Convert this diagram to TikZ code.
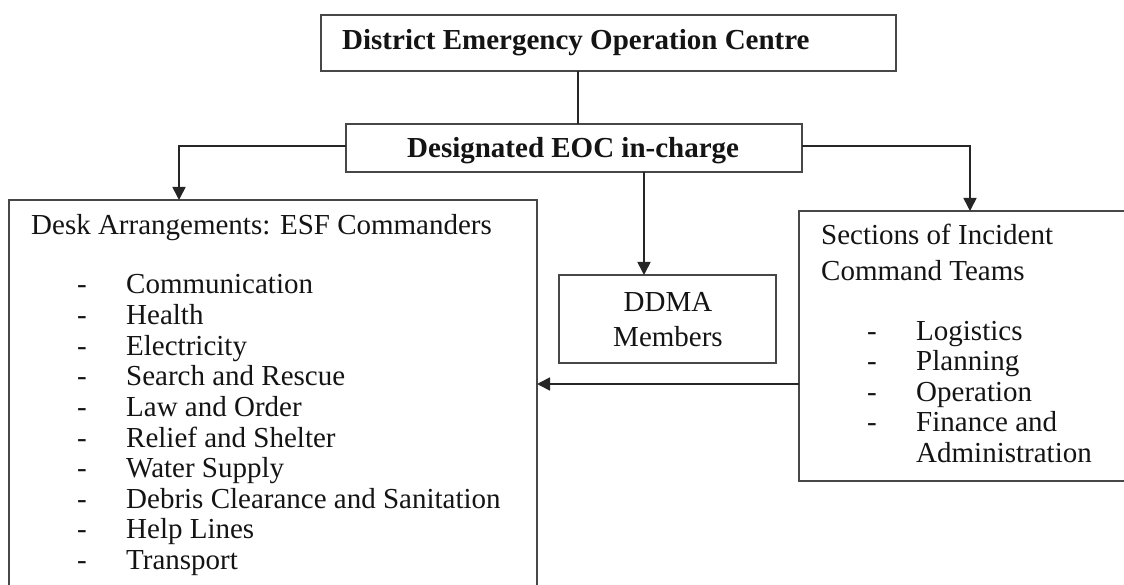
\documentclass[tikz,border=0pt]{standalone}
\usepackage{fontspec}
\setmainfont{Liberation Serif}
\usetikzlibrary{arrows.meta}
\begin{document}
\begin{tikzpicture}[x=1pt,y=-1pt,
  box/.style={draw=black!72, line width=1.5pt, rectangle, inner sep=0pt, outer sep=0pt, anchor=north west},
  conn/.style={draw=black!85, line width=1.6pt},
  arr/.style={conn, -{Triangle[width=13pt,length=13pt]}},
  txt/.style={anchor=base west, inner sep=0pt, text=black!92, font=\fontsize{29}{31}\selectfont},
  btxt/.style={txt, font=\fontsize{29}{31}\selectfont\bfseries},
  ctxt/.style={anchor=base, inner sep=0pt, text=black!92, font=\fontsize{29}{31}\selectfont}
]
\useasboundingbox (0,0) rectangle (1124,585);
\clip (0,0) rectangle (1124,585);
\fill[white] (0,0) rectangle (1124,585);

% boxes
\node[box, minimum width=575pt, minimum height=56pt] (top) at (321,15) {};
\node[box, minimum width=456pt, minimum height=48pt] (mid) at (346,124) {};
\node[box, minimum width=528pt, minimum height=420pt] (left) at (9,200) {};
\node[box, minimum width=217pt, minimum height=88pt] (ddma) at (559,275) {};
\node[box, minimum width=360pt, minimum height=270pt] (right) at (799,211) {};

% texts
\node[btxt] (ttop) at (342,50) {District Emergency Operation Centre};
\node[btxt] (tmid) at (407,158) {Designated EOC in-charge};

\node[txt] (tleft) at (31,235) {Desk Arrangements: ESF Commanders};
\foreach \t [count=\i from 0] in {Communication,Health,Electricity,Search and Rescue,Law and Order,Relief and Shelter,Water Supply,Debris Clearance and Sanitation,Help Lines,Transport}{
  \node[txt] (ld\i) at (77,{294+30.6*\i}) {-};
  \node[txt] (li\i) at (126,{294+30.6*\i}) {\t};
}

\node[ctxt] (dd1) at (668,311) {DDMA};
\node[ctxt] (dd2) at (668,346) {Members};

\node[txt] (tr1) at (821,245) {Sections of Incident};
\node[txt] (tr2) at (821,280) {Command Teams};
\foreach \t [count=\i from 0] in {Logistics,Planning,Operation,Finance and}{
  \node[txt] (rd\i) at (867,{340+30.6*\i}) {-};
  \node[txt] (ri\i) at (916,{340+30.6*\i}) {\t};
}
\node[txt] (ri4) at (916,{340+30.6*4}) {Administration};

% junction coordinates
\coordinate (ja) at (578,0);
\coordinate (jl) at (179,146);
\coordinate (jr) at (970,146);
\coordinate (jd) at (644,0);
\coordinate (jh) at (0,384);

% connectors
\draw[conn] (top.south -| ja) -- (mid.north -| ja);
\draw[arr] (mid.west |- jl) -- (jl) -- (left.north -| jl);
\draw[arr] (mid.east |- jr) -- (jr) -- (right.north -| jr);
\draw[arr] (mid.south -| jd) -- (ddma.north -| jd);
\draw[arr] (right.west |- jh) -- (left.east |- jh);
\end{tikzpicture}
\end{document}
